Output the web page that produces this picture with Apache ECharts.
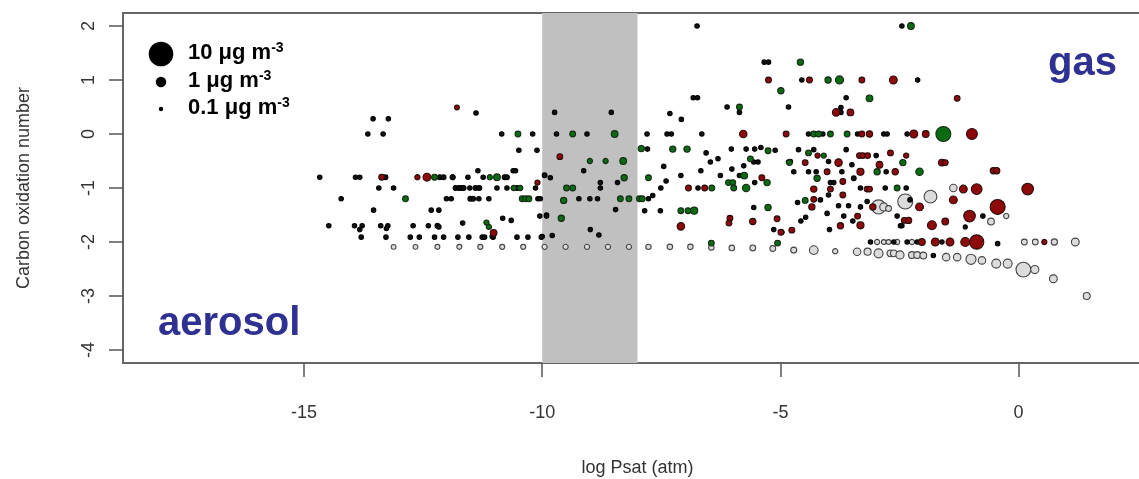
<!DOCTYPE html>
<html><head><meta charset="utf-8">
<script src="https://cdn.jsdelivr.net/npm/echarts/dist/echarts.min.js"></script>
<style>html,body{margin:0;padding:0;background:#fff}#c{width:1139px;height:479px}</style>
</head><body><div id="c"></div>
<script>
// ---- data ----
const xTicks = [-15, -10, -5, 0];
const yTicks = [-4, -3, -2, -1, 0, 1, 2];
const bandRange = [-10, -8];
const legendConc = [10, 1, 0.1];
const legendLabels = ['10 μg m', '1 μg m', '0.1 μg m'];
const xTitle = 'log Psat (atm)';
const yTitle = 'Carbon oxidation number';
const regionLabels = ['gas', 'aerosol'];

// [log Psat, carbon oxidation number, mass concentration (μg m-3)]
const grayPts = [
 [-13.12,-2.09,0.12],[-12.66,-2.09,0.12],[-12.2,-2.09,0.13],[-11.74,-2.09,0.13],[-11.3,-2.09,0.14],[-10.84,-2.09,0.14],
 [-10.4,-2.09,0.14],[-9.95,-2.09,0.15],[-9.51,-2.09,0.15],[-9.06,-2.09,0.15],[-8.62,-2.09,0.15],[-8.18,-2.09,0.15],
 [-7.77,-2.09,0.16],[-7.32,-2.09,0.17],[-6.89,-2.09,0.17],[-6.45,-2.1,0.17],[-6.02,-2.11,0.18],[-5.58,-2.11,0.2],
 [-5.16,-2.12,0.2],[-4.72,-2.15,0.22],[-4.3,-2.15,0.6],[-3.85,-2.17,0.15],[-3.39,-2.18,0.4],[-3.17,-2.18,0.35],
 [-2.94,-2.21,0.65],[-2.69,-2.21,0.3],[-2.62,-2.21,0.3],[-2.49,-2.24,0.5],[-2.24,-2.24,0.3],[-2.13,-2.24,0.3],
 [-2.0,-2.25,0.3],[-1.52,-2.28,0.4],[-1.29,-2.28,0.4],[-1.0,-2.32,0.9],[-0.77,-2.34,0.4],[-0.47,-2.4,0.65],
 [-0.23,-2.4,0.65],[0.1,-2.51,2.5],[0.34,-2.51,0.5],[0.73,-2.68,0.45],[1.43,-3.0,0.33],
 [-2.97,-2.0,0.15],[-2.83,-2.0,0.12],[-2.73,-2.0,0.12],[-2.55,-2.0,0.15],[-2.24,-2.0,0.15],
 [0.12,-2.0,0.2],[0.35,-2.0,0.2],[0.75,-2.0,0.25],[1.19,-2.0,0.45],
 [-0.26,-1.52,0.15],[-0.58,-1.62,0.3],[-1.37,-1.0,0.4],[-2.94,-1.35,2.2],[-2.83,-1.35,0.5],[-2.73,-1.38,0.2],
 [-2.38,-1.25,2.6],[-1.85,-1.16,1.7]
];
const blackPts = [
 [-13.55,0.28,0.1],[-13.23,0.28,0.1],[-13.66,0,0.1],[-13.34,0,0.1],[-10.85,0,0.1],[-10.2,0,0.1],[-11.39,0.39,0.1],
 [-10.49,-0.3,0.1],[-10.11,-0.3,0.1],[-11.35,-0.68,0.1],[-10.61,-0.68,0.1],[-10.56,-0.68,0.1],
 [-14.67,-0.8,0.1],[-13.92,-0.8,0.1],[-13.83,-0.8,0.1],[-13.29,-0.8,0.12],[-12.15,-0.8,0.12],[-12.07,-0.8,0.12],
 [-11.88,-0.8,0.15],[-11.56,-0.8,0.1],[-11.24,-0.8,0.1],[-10.79,-0.8,0.12],[-10.74,-0.8,0.12],[-9.95,-0.76,0.1],
 [-13.43,-1,0.1],[-13.12,-1,0.1],[-11.82,-1,0.12],[-11.75,-1,0.12],[-11.7,-1,0.12],[-11.65,-1,0.12],[-11.52,-1,0.1],
 [-11.4,-1,0.12],[-11.32,-1,0.12],[-10.95,-1,0.1],[-10.74,-1,0.1],[-10.53,-1,0.12],[-10.14,-1,0.1],
 [-14.22,-1.2,0.1],[-12.01,-1.2,0.1],[-11.91,-1.2,0.1],[-11.51,-1.2,0.12],[-11.45,-1.2,0.12],[-11.33,-1.2,0.1],
 [-11.12,-1.2,0.1],[-10.09,-1.2,0.1],
 [-13.54,-1.41,0.1],[-12.33,-1.41,0.1],[-12.17,-1.41,0.1],
 [-10.83,-1.56,0.1],[-10.65,-1.6,0.1],[-10.05,-1.52,0.1],[-9.91,-1.5,0.1],
 [-14.48,-1.7,0.1],[-13.94,-1.7,0.1],[-13.78,-1.7,0.1],[-13.83,-1.77,0.1],[-13.39,-1.7,0.1],[-13.24,-1.7,0.1],
 [-13.27,-1.75,0.1],[-12.71,-1.7,0.1],[-12.39,-1.7,0.1],[-12.2,-1.7,0.12],[-12.17,-1.72,0.1],[-11.67,-1.65,0.1],
 [-11.05,-1.9,0.1],
 [-13.8,-1.91,0.1],[-13.28,-1.91,0.1],[-12.77,-1.91,0.1],[-12.58,-1.91,0.1],[-12.26,-1.91,0.1],[-12.07,-1.91,0.1],
 [-11.77,-1.91,0.1],[-11.54,-1.91,0.1],[-11.26,-1.91,0.1],[-11.21,-1.91,0.1],[-11.03,-1.91,0.1],[-10.53,-1.91,0.1],
 [-10.3,-1.91,0.1],[-10.02,-1.91,0.1],
 [-6.75,2,0.1],[-5.34,1.33,0.1],[-5.25,1.33,0.1],[-6.83,0.67,0.1],[-6.74,0.67,0.1],[-6.12,0.5,0.1],[-5.86,0.4,0.1],
 [-9.74,0.4,0.1],[-8.55,0.4,0.1],[-7.32,0.38,0.1],[-7.08,0.27,0.1],[-4.83,0.5,0.1],
 [-9.7,0,0.1],[-9.06,0,0.1],[-7.8,0,0.1],[-7.38,0,0.1],[-7.29,0,0.1],[-6.65,0,0.1],
 [-7.79,-0.28,0.1],[-6.03,-0.28,0.1],[-5.72,-0.28,0.1],[-5.54,-0.28,0.1],[-5.41,-0.25,0.1],[-5.11,-0.3,0.1],
 [-6.56,-0.35,0.1],[-6.31,-0.46,0.1],[-6.47,-0.52,0.1],[-5.56,-0.52,0.1],[-5.47,-0.52,0.1],[-4.83,-0.52,0.1],
 [-5.77,-0.59,0.1],[-9.13,-0.68,0.1],[-7.45,-0.6,0.1],[-6.67,-0.68,0.1],[-9.95,-0.77,0.1],[-9.83,-0.81,0.1],
 [-8.78,-0.9,0.1],[-8.42,-0.9,0.1],[-7.4,-0.87,0.1],[-7.09,-0.77,0.1],[-6.26,-0.77,0.1],[-5.86,-0.77,0.1],
 [-5.54,-0.9,0.1],[-8.78,-1.0,0.1],[-7.51,-1,0.1],[-6.73,-1,0.1],
 [-10.04,-1.2,0.1],[-9.23,-1.2,0.1],[-9.0,-1.2,0.1],[-8.84,-1.2,0.1],[-7.77,-1.2,0.1],[-7.68,-1.14,0.1],
 [-8.46,-1.4,0.1],[-7.85,-1.42,0.1],[-7.52,-1.42,0.1],[-5.56,-1.36,0.1],
 [-9.91,-1.52,0.1],[-8.99,-1.77,0.1],[-8.81,-1.87,0.1],[-10.0,-1.9,0.1],[-9.79,-1.88,0.1],[-5.14,-1.77,0.1],
 [-6.02,-0.65,0.1],
 [-2.45,2,0.1],[-4.55,1,0.1],[-2.12,1,0.1],[-3.62,0.67,0.1],[-3.73,0.49,0.1],[-3.73,0.4,0.1],
 [-4.41,0,0.1],[-4.11,0,0.1],[-3.38,0,0.1],[-2.83,0,0.1],[-2.76,0,0.1],[-2.34,0,0.1],
 [-4.62,-0.29,0.1],[-4.3,-0.29,0.1],[-3.62,-0.29,0.1],[-2.99,-0.4,0.1],[-4.79,-0.51,0.1],[-3.99,-0.51,0.1],
 [-3.5,-0.57,0.1],[-2.78,-0.7,0.1],[-4.72,-0.7,0.1],[-4.41,-0.7,0.1],[-4.25,-0.7,0.1],[-3.71,-0.7,0.1],
 [-3.95,-0.9,0.1],[-3.88,-0.9,0.1],[-3.46,-0.82,0.12],[-3.32,-1.0,0.1],[-2.8,-1.0,0.1],[-2.36,-1.0,0.1],
 [-4.64,-1.27,0.1],[-4.16,-1.22,0.1],[-3.99,-1.13,0.1],[-3.78,-1.33,0.1],[-3.57,-1.33,0.1],[-3.32,-1.35,0.1],
 [-3.18,-1.25,0.1],[-2.28,-1.22,0.1],[-4.57,-1.61,0.1],[-4.97,-1.82,0.1],[-3.97,-1.77,0.1],[-3.67,-1.52,0.1],
 [-3.48,-1.61,0.1],[-4.02,-1.47,0.1],[-2.55,-1.52,0.1],[-2.48,-1.7,0.1],[-2.45,-1.7,0.1],[-1.12,-1.72,0.08],
 [-0.75,-1.52,0.1],[-3.11,-2.0,0.1],[-2.62,-2,0.1],[-2.34,-2,0.1],[-2.13,-2,0.1],[-1.61,-2,0.1],[-0.44,-2.03,0.1],
 [-1.79,-2.25,0.1],[-4.47,-1.54,0.1]
];
const greenPts = [
 [-10.51,0,0.2],[-12.26,-0.8,0.2],[-11.1,-0.8,0.15],[-10.95,-0.8,0.3],[-10.6,-1,0.15],[-10.46,-1,0.15],
 [-12.87,-1.2,0.2],[-10.42,-1.2,0.2],[-10.35,-1.2,0.2],[-10.28,-1.2,0.2],[-11.17,-1.64,0.15],[-11.12,-1.72,0.15],
 [-4.99,0.8,0.25],[-5.86,0.5,0.2],[-9.36,0,0.2],[-8.48,0,0.3],[-7.92,-0.27,0.25],[-7.26,-0.28,0.25],
 [-6.96,-0.28,0.25],[-5.26,-0.31,0.2],[-9.0,-0.5,0.15],[-8.67,-0.5,0.15],[-8.3,-0.5,0.3],[-5.63,-0.46,0.2],
 [-8.28,-0.81,0.25],[-7.77,-0.81,0.2],[-5.76,-0.77,0.3],[-5.28,-0.9,0.25],[-9.49,-1,0.2],[-9.36,-1,0.2],
 [-6.44,-1,0.2],[-6.09,-0.9,0.2],[-6.0,-0.9,0.2],[-5.98,-1,0.2],[-5.72,-1,0.4],[-9.55,-1.23,0.25],
 [-8.36,-1.2,0.2],[-8.18,-1.2,0.2],[-7.96,-1.2,0.2],[-7.9,-1.2,0.2],[-7.09,-1.42,0.2],[-6.94,-1.42,0.2],
 [-6.81,-1.42,0.35],[-5.26,-1.36,0.25],[-9.6,-1.56,0.25],[-6.45,-2.02,0.2],[-5.06,-2.02,0.2],
 [-2.26,2,0.3],[-4.58,1.33,0.25],[-4.0,1,0.25],[-3.76,1,0.5],[-3.13,0.66,0.3],[-4.3,0,0.2],[-4.2,0,0.2],
 [-3.95,0,0.2],[-3.6,0,0.2],[-1.58,0,2.6],[-4.41,-0.35,0.2],[-4.09,-0.4,0.15],[-2.97,-0.7,0.25],
 [-2.43,-0.53,0.25],[-2.08,-0.7,0.4],[-4.23,-0.82,0.25],[-2.55,-1.0,0.2],[-4.48,-1.23,0.2],[-4.81,-0.53,0.2]
];
const redPts = [
 [-11.79,0.49,0.12],[-13.37,-0.8,0.2],[-12.62,-0.8,0.15],[-12.42,-0.8,0.45],[-10.1,-0.9,0.15],[-11.02,-1.83,0.3],
 [-5.25,1,0.2],[-5.78,0,0.4],[-4.88,0,0.2],[-9.63,-0.42,0.2],[-5.39,-0.81,0.2],[-6.93,-1,0.2],[-6.59,-1,0.2],
 [-6.06,-1.56,0.2],[-6.08,-1.65,0.2],[-5.58,-1.62,0.25],[-5.07,-1.57,0.2],[-7.09,-1.71,0.4],[-4.99,-1.82,0.2],
 [-4.39,1,0.2],[-3.29,1,0.2],[-2.63,1,0.45],[-1.29,0.66,0.2],[-3.83,0.4,0.4],[-3.53,0.4,0.3],[-3.29,0,0.2],
 [-3.13,0,0.25],[-2.2,0,0.45],[-1.95,0,0.3],[-0.98,0,1.1],
 [-4.22,-0.4,0.15],[-3.34,-0.4,0.2],[-3.27,-0.4,0.2],[-3.17,-0.4,0.2],[-2.69,-0.35,0.2],[-2.36,-0.4,0.15],
 [-4.48,-0.53,0.2],[-3.78,-0.53,0.4],[-3.32,-0.7,0.35],[-2.92,-0.57,0.3],[-2.59,-0.7,0.25],[-1.61,-0.53,0.3],
 [-1.54,-0.53,0.2],[-4.02,-0.7,0.2],[-3.69,-0.88,0.2],[-4.3,-1.02,0.25],[-3.95,-1.02,0.2],[-3.69,-1.13,0.2],
 [-3.18,-1.02,0.2],[-3.13,-1.02,0.2],[-4.3,-1.21,0.2],[-4.34,-1.35,0.25],[-3.06,-1.35,0.25],[-2.08,-1.35,0.45],
 [-1.37,-1.22,0.45],[-1.16,-1.02,0.45],[-0.88,-1.02,1.05],[-0.53,-0.68,0.25],[-0.46,-0.68,0.25],[0.19,-1.02,1.3],
 [-0.44,-1.35,2.6],[-1.03,-1.52,1.3],[-4.76,-1.78,0.2],[-3.74,-1.7,0.25],[-3.38,-1.52,0.2],[-3.32,-1.69,0.35],
 [-2.4,-1.6,0.2],[-2.31,-1.6,0.25],[-1.82,-1.69,0.65],[-1.54,-1.62,0.3],[-2.03,-2,0.3],[-1.75,-2,0.45],
 [-1.44,-2,0.45],[-1.12,-2,0.65],[-0.88,-2,2.3],[0.54,-2,0.15]
];

// ---- chart ----
const sizeOf = c => 10.5 * Math.pow(c, 0.37);
const FONT = "'Liberation Sans', Arial, sans-serif";
const chart = echarts.init(document.getElementById('c'), null, {renderer: 'canvas'});

function pointSeries(name, data, fill, border, z) {
  return {
    name, type: 'scatter', data, z,
    symbol: 'circle',
    symbolSize: v => sizeOf(v[2]),
    itemStyle: {color: fill, borderColor: border, borderWidth: 1.1, opacity: 1},
    emphasis: {disabled: true}, silent: true, animation: false
  };
}

const legendGraphics = [];
const legendY = [54, 82, 109];
legendConc.forEach((c, i) => {
  legendGraphics.push({type: 'circle', shape: {cx: 161, cy: legendY[i], r: sizeOf(c) / 2},
    style: {fill: '#000'}, z: 100});
  legendGraphics.push({type: 'text', x: 188, y: legendY[i] - 1, z: 100,
    style: {text: '{n|' + legendLabels[i] + '}{s|-3}', verticalAlign: 'middle',
      rich: {n: {fill: '#000', fontWeight: 'bold', fontSize: 22, fontFamily: FONT},
             s: {fontWeight: 'bold', fontSize: 14, fontFamily: FONT, fill: '#000', verticalAlign: 'top', padding: [0, 0, 10, 0]}}}});
});
legendGraphics.push({type: 'text', x: 1048, y: 64, z: 100,
  style: {text: regionLabels[0], font: 'bold 40px ' + FONT, fill: '#2e3192', verticalAlign: 'middle'}});
legendGraphics.push({type: 'text', x: 158, y: 324, z: 100,
  style: {text: regionLabels[1], font: 'bold 40px ' + FONT, fill: '#2e3192', verticalAlign: 'middle'}});

chart.setOption({
  animation: false,
  backgroundColor: '#fff',
  grid: {left: 123, top: 13, width: 1029, height: 350, outerBoundsMode: 'none', containLabel: false,
         show: true, borderColor: '#666', borderWidth: 2, backgroundColor: 'transparent'},
  xAxis: {
    type: 'value', min: -18.8, max: 2.8,
    name: xTitle, nameLocation: 'middle', nameGap: 96,
    nameTextStyle: {fontSize: 18, color: '#333', fontFamily: FONT},
    axisLine: {show: false, onZero: false},
    axisTick: {show: true, inside: false, length: 14, customValues: xTicks, lineStyle: {color: '#555', width: 1.5}},
    axisLabel: {customValues: xTicks, fontSize: 18, color: '#333', fontFamily: FONT, margin: 41},
    splitLine: {show: false}
  },
  yAxis: {
    type: 'value', min: -4.24, max: 2.24,
    name: yTitle, nameLocation: 'middle', nameGap: 90, nameRotate: 90,
    nameTextStyle: {fontSize: 18, color: '#333', fontFamily: FONT},
    axisLine: {show: false, onZero: false},
    axisTick: {show: true, inside: false, length: 14, customValues: yTicks, lineStyle: {color: '#555', width: 1.5}},
    axisLabel: {customValues: yTicks, rotate: 90, fontSize: 18, color: '#333', fontFamily: FONT, margin: 25},
    splitLine: {show: false}
  },
  series: [
    {type: 'scatter', data: [], z: 1, silent: true,
     markArea: {silent: true, itemStyle: {color: '#c0c0c0'},
       data: [[{xAxis: bandRange[0]}, {xAxis: bandRange[1]}]]}},
    pointSeries('gray', grayPts, '#dcdcdc', '#444', 3),
    pointSeries('black', blackPts, '#111', '#000', 4),
    pointSeries('green', greenPts, '#0b6b12', '#142a14', 5),
    pointSeries('red', redPts, '#8e0a0a', '#2a0a0a', 6)
  ],
  graphic: legendGraphics
});
</script></body></html>
